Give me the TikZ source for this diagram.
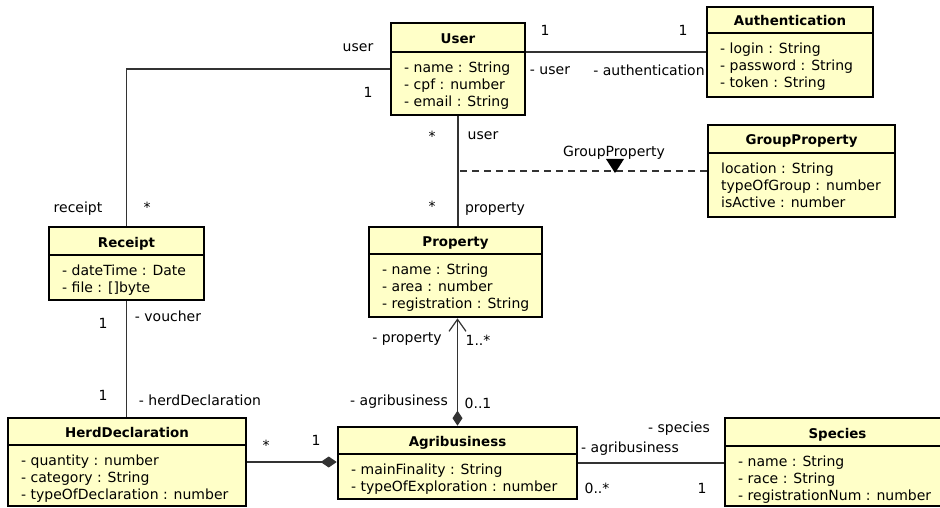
\documentclass[tikz,border=0pt]{standalone}
\usepackage{fontspec}
\setmainfont{DejaVu Sans}
\usetikzlibrary{arrows.meta}
\definecolor{classfill}{HTML}{FFFFC8}
\definecolor{linkgray}{HTML}{333333}

\begin{document}
\begin{tikzpicture}[x=1pt, y=-1pt,
    umlbox/.style = {draw=black, line width=2.6pt, fill=classfill, inner sep=0pt},
    umltitle/.style = {font=\fontsize{13.4}{16}\selectfont\bfseries, inner sep=0pt, text height=10pt, text depth=3pt},
    umlattr/.style = {font=\fontsize{14}{17.3}\selectfont, align=left, anchor=north west, inner sep=0pt},
    lbl/.style = {font=\fontsize{14}{17}\selectfont, inner sep=0pt, text height=10pt, text depth=3pt},
    assoc/.style = {draw=linkgray, line width=1.2pt}]

    \useasboundingbox (0,0) rectangle (940,508);

    % classes: name / left / top / right / bottom / title line / attributes
    \foreach \name/\xa/\ya/\xb/\yb/\ys/\attrs in {
        User/391/23/525/115/52/{- name : String\\- cpf : number\\- email : String},
        Authentication/707/7/873/97/33/{- login : String\\- password : String\\- token : String},
        GroupProperty/708/125/895/217/153/{location : String\\typeOfGroup : number\\isActive : number},
        Receipt/49/227/204/300/255/{- dateTime : Date\\- file : []byte},
        Property/369/227/542/317/254/{- name : String\\- area : number\\- registration : String},
        HerdDeclaration/8/418/246/506/445/{- quantity : number\\- category : String\\- typeOfDeclaration : number},
        Agribusiness/338/427/577/499/454/{- mainFinality : String\\- typeOfExploration : number},
        Species/725/418/950/506/446/{- name : String\\- race : String\\- registrationNum : number}}
    {
        \node [umlbox, minimum width={(\xb-\xa)*1pt}, minimum height={(\yb-\ya)*1pt}] (\name) at ({(\xa+\xb)/2}, {(\ya+\yb)/2}) {};
        \draw [line width=1.2pt] (\xa,\ys) -- (\xb,\ys);
        \node [umltitle] (\name-title) at ({(\xa+\xb)/2}, {(\ya+\ys)/2+2.5}) {\name};
        \node [umlattr] (\name-attrs) at (\xa+13, \ys+9.5) {\attrs};
    }

    % associations
    \draw [assoc] (User.west) -| (Receipt.north);
    \draw [assoc] (Authentication.west) -- (Authentication.west -| User.east);
    \draw [assoc] (User.south) -- (User.south |- Property.north);
    \coordinate (gpjoin) at (User.south |- GroupProperty.west);
    \draw [assoc, dash pattern=on 7pt off 5pt] (GroupProperty.west) -- (gpjoin);
    \fill (606,159) -- (624,159) -- (615,173) -- cycle;
    \draw [assoc] (Receipt.south) -- (Receipt.south |- HerdDeclaration.north);
    \draw [assoc, {Diamond[length=15pt, width=10pt]}-{Straight Barb[length=12pt, width=17pt]}] (Agribusiness.north) -- (Agribusiness.north |- Property.south);
    \draw [assoc, -{Diamond[length=16pt, width=11pt]}] (HerdDeclaration.east) -- (HerdDeclaration.east -| Agribusiness.west);
    \draw [assoc] (Agribusiness.east) -- (Agribusiness.east -| Species.west);

    % role names and multiplicities
    \foreach \x/\y/\txt [count=\i] in {
        358/48/user, 368/94.5/1, 78/209/receipt, 147/209/*,
        545/32/1, 683/32/1, 550/71/- user, 649/72/- authentication,
        432/138/*, 483/136/user, 432/208/*, 495/209/property,
        614/153/GroupProperty,
        407/339/- property, 478/342/1..*, 399/402/- agribusiness, 478/405/0..1,
        103/324.5/1, 168/318/- voucher, 103/397/1, 200/402/- herdDeclaration,
        266/447/*, 316/441.5/1,
        679/429/- species, 630/449/- agribusiness, 597/490/0..*, 702/489.5/1}
    \node [lbl] (lbl\i) at (\x,\y) {\txt};

\end{tikzpicture}
\end{document}
